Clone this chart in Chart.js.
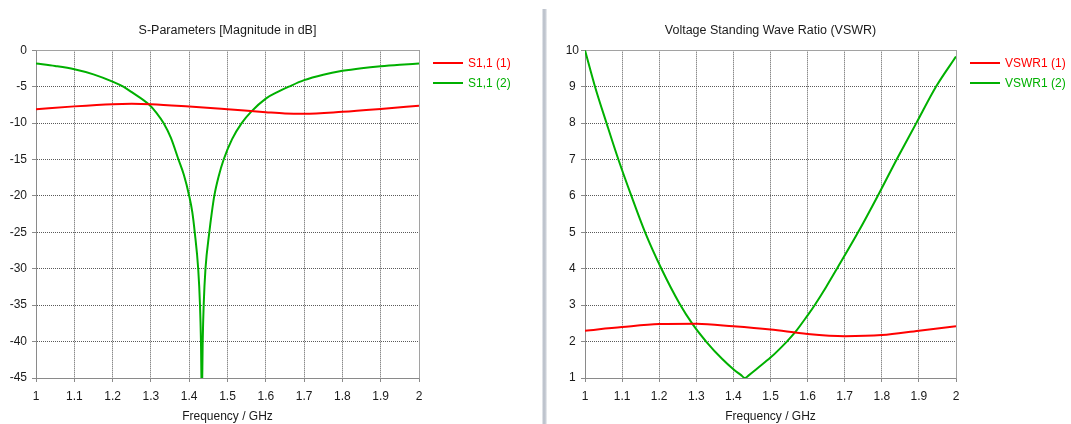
<!DOCTYPE html>
<html>
<head>
<meta charset="utf-8">
<script src="https://cdn.jsdelivr.net/npm/chart.js@4.4.1/dist/chart.umd.min.js"></script>
<style>
  html, body { margin: 0; padding: 0; background: #ffffff; }
  #wrap { position: relative; width: 1071px; height: 424px; overflow: hidden; background: #ffffff; }
  #leftBox { position: absolute; left: 0; top: 0; width: 540px; height: 424px; }
  #rightBox { position: absolute; left: 548px; top: 0; width: 523px; height: 424px; }
  #divider {
    position: absolute; left: 542px; top: 9px; width: 5px; height: 415px;
    background: linear-gradient(to right, #eef0f3 0%, #b7bdc7 35%, #c9ced6 70%, #f2f3f5 100%);
  }
</style>
</head>
<body>
<div id="wrap">
  <div id="leftBox"><canvas id="s11Chart" width="540" height="424"></canvas></div>
  <div id="divider"></div>
  <div id="rightBox"><canvas id="vswrChart" width="523" height="424"></canvas></div>
</div>
<script>
// ---- Data ----------------------------------------------------------------
// |S1,1| in dB, run (1)
const s11FreqA = [1.00, 1.10, 1.20, 1.25, 1.30, 1.40, 1.50, 1.60, 1.65, 1.70, 1.80, 1.90, 2.00];
const s11DbA   = [-8.10, -7.70, -7.40, -7.35, -7.40, -7.72, -8.10, -8.50, -8.68, -8.73, -8.45, -8.05, -7.60];

// |S1,1| in dB, run (2) - sharp resonance near 1.433 GHz
const s11FreqB = [1.000, 1.050, 1.100, 1.150, 1.200, 1.228, 1.250, 1.295, 1.314, 1.333, 1.352, 1.372, 1.386,
                  1.400, 1.408, 1.4145, 1.4235, 1.4282, 1.4307, 1.433, 1.4353, 1.4378, 1.4425, 1.4525, 1.459,
                  1.4655, 1.477, 1.490, 1.512, 1.537, 1.562, 1.600, 1.630, 1.660, 1.700, 1.750, 1.800, 1.850,
                  1.900, 1.950, 2.000];
const s11DbB   = [-1.80, -2.15, -2.60, -3.30, -4.30, -5.00, -5.75, -7.45, -8.55, -10.0, -12.0, -15.0, -17.1,
                  -20.0, -22.2, -25.0, -30.0, -35.0, -40.0, -48.0, -40.0, -35.0, -30.0, -25.0, -22.3,
                  -20.0, -17.3, -15.0, -12.2, -10.0, -8.42, -6.63, -5.75, -5.00, -4.10, -3.35, -2.82, -2.45,
                  -2.18, -1.98, -1.82];

// VSWR, run (1)
const vswrFreqA = [1.0, 1.1, 1.2, 1.3, 1.4, 1.5, 1.6, 1.7, 1.8, 1.9, 2.0];
const vswrA     = [2.30, 2.40, 2.48, 2.49, 2.42, 2.33, 2.21, 2.15, 2.18, 2.30, 2.42];

// VSWR, run (2)
const vswrFreqB = [1.000, 1.027, 1.058, 1.090, 1.125, 1.162, 1.206, 1.255, 1.290, 1.330, 1.370, 1.400, 1.420, 1.431,
                   1.442, 1.465, 1.500, 1.544, 1.566, 1.600, 1.619, 1.650, 1.679, 1.736, 1.789, 1.840, 1.893, 1.946, 2.000];
const vswrB     = [10.0, 9.0, 8.0, 7.0, 6.0, 5.0, 4.0, 3.04, 2.48, 1.96, 1.52, 1.24, 1.085, 1.0,
                   1.08, 1.27, 1.56, 2.0, 2.25, 2.72, 3.0, 3.50, 4.0, 5.0, 6.0, 7.0, 8.0, 9.0, 9.83];

// Tick labels
const freqTickLabels = ['1', '1.1', '1.2', '1.3', '1.4', '1.5', '1.6', '1.7', '1.8', '1.9', '2'];
const dbTickLabels   = ['-45', '-40', '-35', '-30', '-25', '-20', '-15', '-10', '-5', '0'];
const vswrTickLabels = ['1', '2', '3', '4', '5', '6', '7', '8', '9', '10'];

// Series names and colours
const seriesNamesS11  = ['S1,1 (1)', 'S1,1 (2)'];
const seriesNamesVswr = ['VSWR1 (1)', 'VSWR1 (2)'];
const seriesColors    = ['#ff0000', '#00b000'];

// ---- Helpers -------------------------------------------------------------
const FONT = '"Liberation Sans", Arial, sans-serif';
const TEXT_COLOR = '#1a1a1a';
const GRID_COLOR = '#5a5a5a';
const AXIS_COLOR = '#8a8a8a';

const toPoints = (xs, ys) => xs.map((x, i) => ({ x: x, y: ys[i] }));

function lineDataset(label, color, xs, ys) {
  return {
    label: label,
    data: toPoints(xs, ys),
    borderColor: color,
    backgroundColor: color,
    borderWidth: 2,
    pointRadius: 0,
    pointHoverRadius: 0,
    fill: false,
    cubicInterpolationMode: 'monotone'
  };
}

// Top and right edges of the plot frame
const plotFrame = {
  id: 'plotFrame',
  beforeDatasetsDraw(chart) {
    const { ctx, chartArea: a } = chart;
    const l = Math.round(a.left) + 0.5, r = Math.round(a.right) + 0.5;
    const t = Math.round(a.top) + 0.5, b = Math.round(a.bottom) + 0.5;
    ctx.save();
    ctx.strokeStyle = '#a2a2a2';
    ctx.lineWidth = 1;
    ctx.beginPath();
    ctx.moveTo(l, t); ctx.lineTo(r, t); ctx.lineTo(r, b);
    ctx.stroke();
    ctx.restore();
  }
};

// Legend drawn beside the plot area, text coloured like its line
const sideLegend = {
  id: 'sideLegend',
  afterDraw(chart) {
    const { ctx, chartArea: a } = chart;
    ctx.save();
    ctx.font = '12px ' + FONT;
    ctx.textBaseline = 'middle';
    ctx.textAlign = 'left';
    chart.data.datasets.forEach((ds, i) => {
      const y = Math.round(a.top) + 13 + i * 20;
      const x0 = Math.round(a.right) + 14;
      ctx.strokeStyle = ds.borderColor;
      ctx.lineWidth = 2;
      ctx.beginPath();
      ctx.moveTo(x0, y);
      ctx.lineTo(x0 + 30, y);
      ctx.stroke();
      ctx.fillStyle = ds.borderColor;
      ctx.fillText(ds.label, x0 + 35, y + 0.5);
    });
    ctx.restore();
  }
};

function freqAxis() {
  return {
    type: 'linear',
    min: 1,
    max: 2,
    afterBuildTicks: s => { s.ticks = freqTickLabels.map(v => ({ value: parseFloat(v) })); },
    afterFit: s => { s.height = 46; },
    ticks: {
      autoSkip: false,
      maxRotation: 0,
      padding: 7,
      color: TEXT_COLOR,
      font: { family: FONT, size: 12 },
      callback: (v, i) => freqTickLabels[i]
    },
    grid: { color: GRID_COLOR, tickColor: AXIS_COLOR, tickLength: 4, lineWidth: 1 },
    border: { display: true, color: AXIS_COLOR, width: 1, dash: [1, 1] },
    title: {
      display: true,
      text: 'Frequency / GHz',
      color: TEXT_COLOR,
      font: { family: FONT, size: 12 },
      padding: { top: 6, bottom: 0 }
    }
  };
}

function valueAxis(min, max, labels, width, crossAlign, pad) {
  return {
    type: 'linear',
    min: min,
    max: max,
    afterBuildTicks: s => { s.ticks = labels.map(v => ({ value: parseFloat(v) })); },
    afterFit: s => { s.width = width; },
    ticks: {
      autoSkip: false,
      padding: pad,
      crossAlign: crossAlign,
      color: TEXT_COLOR,
      font: { family: FONT, size: 12 },
      callback: (v, i) => labels[i]
    },
    grid: { color: GRID_COLOR, tickColor: AXIS_COLOR, tickLength: 4, lineWidth: 1 },
    border: { display: true, color: AXIS_COLOR, width: 1, dash: [1, 1] }
  };
}

function chartOptions(titleText, yAxis, rightPad) {
  return {
    responsive: false,
    animation: false,
    events: [],
    layout: { padding: { left: 0, right: rightPad, top: 0, bottom: 0 } },
    plugins: {
      legend: { display: false },
      tooltip: { enabled: false },
      title: {
        display: true,
        text: titleText,
        fullSize: false,
        color: TEXT_COLOR,
        font: { family: FONT, size: 12.5, weight: 'normal' },
        padding: { top: 23, bottom: 12.3 }
      }
    },
    scales: { x: freqAxis(), y: yAxis }
  };
}

// ---- S-parameter chart -----------------------------------------------------
new Chart(document.getElementById('s11Chart'), {
  type: 'line',
  data: {
    datasets: [
      lineDataset(seriesNamesS11[0], seriesColors[0], s11FreqA, s11DbA),
      lineDataset(seriesNamesS11[1], seriesColors[1], s11FreqB, s11DbB)
    ]
  },
  options: chartOptions('S-Parameters [Magnitude in dB]',
                        valueAxis(-45, 0, dbTickLabels, 36, 'near', 5), 121),
  plugins: [plotFrame, sideLegend]
});

// ---- VSWR chart ------------------------------------------------------------
new Chart(document.getElementById('vswrChart'), {
  type: 'line',
  data: {
    datasets: [
      lineDataset(seriesNamesVswr[0], seriesColors[0], vswrFreqA, vswrA),
      lineDataset(seriesNamesVswr[1], seriesColors[1], vswrFreqB, vswrB)
    ]
  },
  options: chartOptions('Voltage Standing Wave Ratio (VSWR)',
                        valueAxis(1, 10, vswrTickLabels, 37, 'center', 2), 115),
  plugins: [plotFrame, sideLegend]
});
</script>
</body>
</html>
